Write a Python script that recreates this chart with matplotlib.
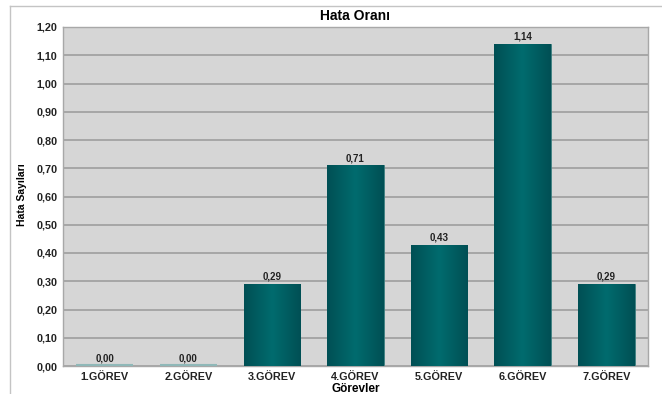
import matplotlib
matplotlib.use("Agg")
import matplotlib.pyplot as plt
import numpy as np
from matplotlib.lines import Line2D
from matplotlib.colors import LinearSegmentedColormap

categories = ["1.GÖREV", "2.GÖREV", "3.GÖREV", "4.GÖREV", "5.GÖREV", "6.GÖREV", "7.GÖREV"]
values = [0.00, 0.00, 0.29, 0.71, 0.43, 1.14, 0.29]
yticks = [0.0, 0.1, 0.2, 0.3, 0.4, 0.5, 0.6, 0.7, 0.8, 0.9, 1.0, 1.1, 1.2]

plt.rcParams['font.family'] = ['Liberation Sans', 'DejaVu Sans']

fig = plt.figure(figsize=(6.62, 3.94), dpi=100)
ax = fig.add_axes([63/662, 1 - 366/394, 585/662, (366-27)/394])
ax.set_facecolor('#d6d6d6')

x = np.arange(len(categories))
width = 0.68
bars = ax.bar(x, values, width=width, color='#005e62', zorder=2)

grad = np.abs(np.linspace(-1, 1, 256))[np.newaxis, :]
cmap = LinearSegmentedColormap.from_list('tg', ['#006b6e', '#004f54'])
for b, v in zip(bars, values):
    if v > 0:
        im = ax.imshow(grad, cmap=cmap, aspect='auto', zorder=3,
                       extent=[b.get_x(), b.get_x() + b.get_width(), 0, v])
        im.set_clip_path(b)
        b.set_edgecolor('#3e7f80')
        b.set_linewidth(0.6)
    else:
        ax.plot([b.get_x(), b.get_x() + b.get_width()], [0.004, 0.004],
                color='#8fb8b8', lw=1.5, zorder=5, solid_capstyle='butt', clip_on=False)

for xi, v in zip(x, values):
    ax.text(xi, v + 0.008, f"{v:.2f}".replace('.', ','), ha='center', va='bottom',
            fontsize=7, fontweight='bold', color='#222222', zorder=6)

ax.set_xlim(-0.5, len(categories) - 0.5)
ax.set_ylim(0, 1.2)
ax.set_yticks(yticks)
ax.set_yticklabels([f"{t:.2f}".replace('.', ',') for t in yticks], fontsize=7.8, fontweight='bold')
ax.set_xticks(x)
ax.set_xticklabels(categories, fontsize=7.8, fontweight='bold')
ax.tick_params(axis='both', length=0, pad=4, colors='#222222')
ax.yaxis.grid(True, color='#a3a3a3', lw=1.3, zorder=1)
ax.set_axisbelow(True)
for s in ax.spines.values():
    s.set_color('#a8a8a8')
    s.set_linewidth(1.0)

ax.set_title("Hata Oranı", fontsize=10, fontweight='bold', pad=5)
ax.set_xlabel("Görevler", fontsize=8.5, fontweight='bold', labelpad=1)
fig.text(22/662, 1 - 195/394, "Hata Sayıları", rotation=90, ha='center', va='center',
         fontsize=7.5, fontweight='bold', family=['Liberation Sans Narrow', 'Liberation Sans', 'DejaVu Sans'])

fig.add_artist(Line2D([10/662, 1], [1 - 6/394, 1 - 6/394], transform=fig.transFigure, color='#c4c4c4', lw=1))
fig.add_artist(Line2D([10/662, 10/662], [0, 1 - 6/394], transform=fig.transFigure, color='#c4c4c4', lw=1))

fig.savefig("out.png", dpi=100)
